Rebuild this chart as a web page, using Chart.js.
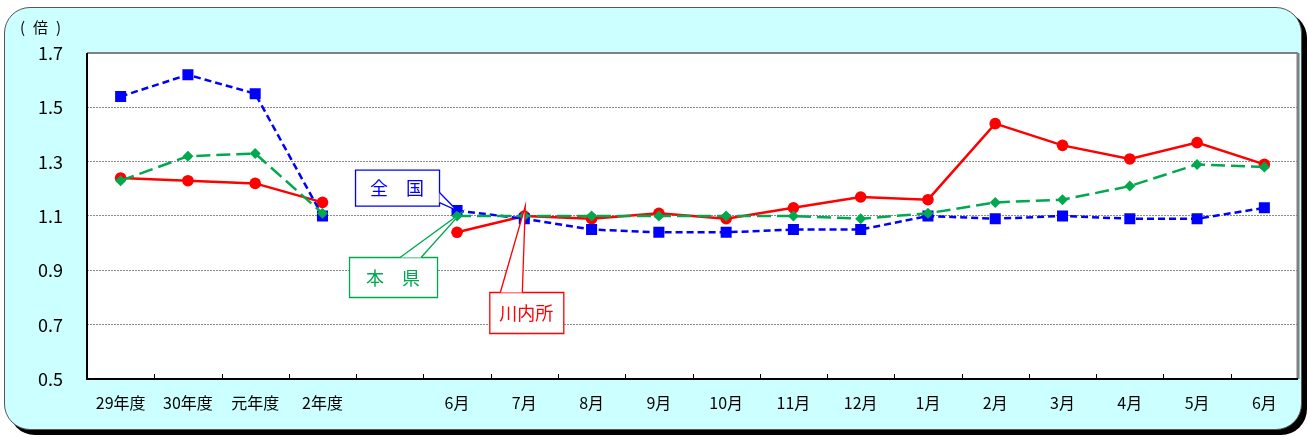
<!DOCTYPE html>
<html>
<head>
  <meta charset="utf-8">
  <script src="https://cdn.jsdelivr.net/npm/chart.js"></script>
  <style>
    html, body { margin: 0; padding: 0; background: #fff; }
    #wrap { position: relative; width: 1309px; height: 437px; overflow: hidden; }
    #frame {
      position: absolute; left: 4px; top: 7px; width: 1298px; height: 423px;
      box-sizing: border-box; border: 1px solid #555; border-radius: 26px;
      background: #ccffff; box-shadow: 5px 5px 0 #000;
    }
    #chart { position: absolute; left: 0; top: 0; }
  </style>
</head>
<body>

<div id="wrap">
  <div id="frame"></div>
  <canvas id="chart" width="1309" height="437"></canvas>
</div>

<script>
const labels = ["29年度", "30年度", "元年度", "2年度", "", "6月", "7月", "8月", "9月", "10月",
  "11月", "12月", "1月", "2月", "3月", "4月", "5月", "6月"];

// 全国
const zenkoku = [1.54, 1.62, 1.55, 1.10, null, 1.12, 1.09, 1.05, 1.04, 1.04,
  1.05, 1.05, 1.10, 1.09, 1.10, 1.09, 1.09, 1.13];
// 本県
const honken = [1.23, 1.32, 1.33, 1.11, null, 1.10, 1.10, 1.10, 1.10, 1.10,
  1.10, 1.09, 1.11, 1.15, 1.16, 1.21, 1.29, 1.28];
// 川内所
const sendai = [1.24, 1.23, 1.22, 1.15, null, 1.04, 1.10, 1.09, 1.11, 1.09,
  1.13, 1.17, 1.16, 1.44, 1.36, 1.31, 1.37, 1.29];

const yTicks = [0.5, 0.7, 0.9, 1.1, 1.3, 1.5, 1.7];

const FONT = '"Noto Sans CJK JP", "Noto Sans", sans-serif';
const BLUE = "#0000ff", GREEN = "#00a850", RED = "#ff0000";

const framePlugin = {
  id: "frame",
  beforeDraw(chart) {
    const { ctx, chartArea: a } = chart;
    ctx.save();
    ctx.fillStyle = "#fff";
    ctx.fillRect(a.left, a.top, a.right - a.left, a.bottom - a.top);
    ctx.fillStyle = "#000";
    ctx.font = "15px " + FONT;
    ctx.textBaseline = "middle";
    ctx.fillText("(", 20, 27);
    ctx.fillText("倍", 33, 27);
    ctx.fillText(")", 56, 27);
    ctx.restore();
  },
  beforeDatasetsDraw(chart) {
    const { ctx, chartArea: a } = chart;
    const x = chart.scales.x;
    ctx.save();
    // top / right border
    ctx.strokeStyle = "#808080";
    ctx.lineWidth = 2;
    ctx.beginPath();
    ctx.moveTo(a.left, a.top);
    ctx.lineTo(a.right, a.top);
    ctx.stroke();
    ctx.lineWidth = 3;
    ctx.beginPath();
    ctx.moveTo(a.right, a.top);
    ctx.lineTo(a.right, a.bottom);
    ctx.stroke();
    // category ticks
    ctx.strokeStyle = "#000";
    ctx.lineWidth = 1;
    for (let i = 1; i < labels.length; i++) {
      const px = Math.round((x.getPixelForValue(i - 1) + x.getPixelForValue(i)) / 2) + 0.5;
      ctx.beginPath();
      ctx.moveTo(px, a.bottom);
      ctx.lineTo(px, a.bottom - 5);
      ctx.stroke();
    }
    // left / bottom border
    ctx.lineWidth = 2;
    ctx.beginPath();
    ctx.moveTo(a.left, a.top);
    ctx.lineTo(a.left, a.bottom);
    ctx.lineTo(a.right, a.bottom);
    ctx.stroke();
    ctx.restore();
  }
};

function callout(ctx, box, wedge, tip, color, text) {
  ctx.save();
  ctx.fillStyle = "#fff";
  ctx.strokeStyle = color;
  ctx.lineWidth = 1.3;
  ctx.beginPath();
  ctx.rect(box.x + 0.5, box.y + 0.5, box.w, box.h);
  ctx.fill();
  ctx.stroke();
  ctx.beginPath();
  ctx.moveTo(wedge[0].x, wedge[0].y);
  ctx.lineTo(tip.x, tip.y);
  ctx.lineTo(wedge[1].x, wedge[1].y);
  ctx.closePath();
  ctx.fill();
  ctx.beginPath();
  ctx.moveTo(wedge[0].x, wedge[0].y);
  ctx.lineTo(tip.x, tip.y);
  ctx.lineTo(wedge[1].x, wedge[1].y);
  ctx.stroke();
  ctx.fillStyle = color;
  ctx.font = "18px " + FONT;
  ctx.textAlign = "center";
  ctx.textBaseline = "middle";
  ctx.fillText(text, box.x + box.w / 2, box.y + box.h / 2 + 1);
  ctx.restore();
}

const calloutPlugin = {
  id: "callouts",
  afterDatasetsDraw(chart) {
    const ctx = chart.ctx;
    const pB = chart.getDatasetMeta(1).data[5];
    const pG = chart.getDatasetMeta(0).data[5];
    const pR = chart.getDatasetMeta(2).data[6];

    let t = { x: pB.x, y: pB.y };
    let b = { x: t.x - 102, y: t.y - 41, w: 84, h: 36 };
    callout(ctx, b, [{ x: b.x + b.w + 0.5, y: b.y + 23 }, { x: b.x + b.w + 0.5, y: b.y + 33 }], t, BLUE, "全　国");

    t = { x: pG.x + 4, y: pG.y - 3 };
    b = { x: t.x - 112, y: t.y + 44, w: 88, h: 40 };
    callout(ctx, b, [{ x: b.x + 51, y: b.y + 0.5 }, { x: b.x + 72, y: b.y + 0.5 }], t, GREEN, "本　県");

    t = { x: pR.x + 1, y: pR.y - 10 };
    b = { x: t.x - 36, y: t.y + 86, w: 74, h: 41 };
    callout(ctx, b, [{ x: b.x + 11, y: b.y + 0.5 }, { x: b.x + 33, y: b.y + 0.5 }], t, RED, "川内所");
  }
};

new Chart(document.getElementById("chart"), {
  type: "line",
  data: {
    labels: labels,
    datasets: [{
      label: "本県",
      data: honken,
      borderColor: GREEN,
      backgroundColor: GREEN,
      borderWidth: 2.5,
      borderDash: [14, 6],
      pointStyle: "rectRot",
      pointRadius: 5.5,
      pointBorderWidth: 0,
      pointBackgroundColor: GREEN,
      spanGaps: false
    }, {
      label: "全国",
      data: zenkoku,
      borderColor: BLUE,
      backgroundColor: BLUE,
      borderWidth: 2.5,
      borderDash: [7, 4],
      pointStyle: "rect",
      pointRadius: 7.8,
      pointBorderWidth: 0,
      pointBackgroundColor: BLUE,
      spanGaps: false
    }, {
      label: "川内所",
      data: sendai,
      borderColor: RED,
      backgroundColor: RED,
      borderWidth: 2.5,
      pointStyle: "circle",
      pointRadius: 5.8,
      pointBorderWidth: 0,
      pointBackgroundColor: RED,
      spanGaps: false
    }]
  },
  options: {
    responsive: false,
    animation: false,
    events: [],
    layout: { padding: { left: 0, top: 53, right: 11, bottom: 0 } },
    plugins: {
      legend: { display: false },
      tooltip: { enabled: false },
      title: { display: false }
    },
    elements: { line: { tension: 0 } },
    scales: {
      x: {
        type: "category",
        offset: true,
        grid: { display: false, drawTicks: false },
        border: { display: false },
        ticks: {
          autoSkip: false, maxRotation: 0, padding: 14,
          color: "#000", font: { family: FONT, size: 16 }
        },
        afterFit(s) { s.height = 58; }
      },
      y: {
        min: 0.5,
        max: 1.7,
        afterBuildTicks(s) { s.ticks = yTicks.map(v => ({ value: v })); },
        grid: {
          drawTicks: false,
          lineWidth: 1,
          color: c => (c.tick && (c.tick.value < 0.55 || c.tick.value > 1.65)) ? "rgba(0,0,0,0)" : "#8a8a8a"
        },
        border: { display: false, dash: [2, 1] },
        ticks: {
          padding: 24,
          color: "#000",
          font: { family: FONT, size: 18 },
          callback: v => Number(v).toFixed(1)
        },
        afterFit(s) { s.width = 87; }
      }
    }
  },
  plugins: [framePlugin, calloutPlugin]
});
</script>

</body>
</html>
